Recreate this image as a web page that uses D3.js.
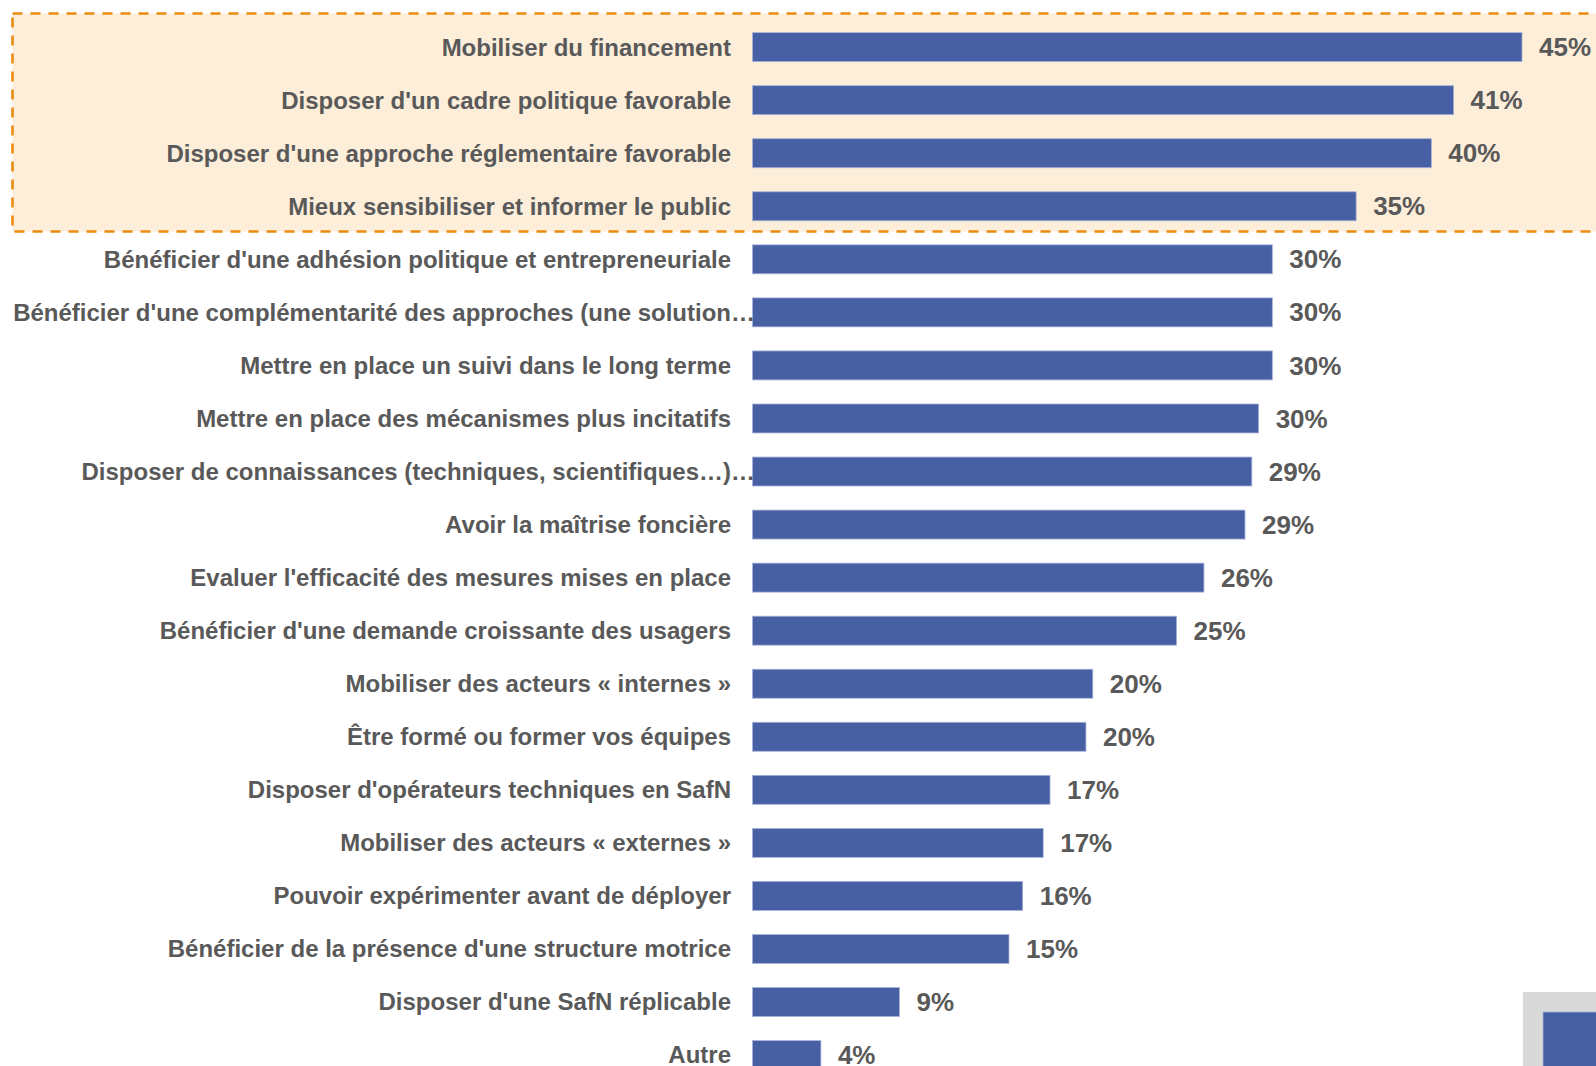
<!DOCTYPE html>
<html>
<head>
<meta charset="utf-8">
<script src="https://cdn.jsdelivr.net/npm/d3@7"></script>
<style>
  html, body { margin: 0; padding: 0; background: #ffffff; overflow: hidden; }
  svg { display: block; }
</style>
</head>
<body>
<svg id="chart" width="1596" height="1066"></svg>
<script>
// ---- data ----
const categories = [
  "Mobiliser du financement",
  "Disposer d'un cadre politique favorable",
  "Disposer d'une approche réglementaire favorable",
  "Mieux sensibiliser et informer le public",
  "Bénéficier d'une adhésion politique et entrepreneuriale",
  "Bénéficier d'une complémentarité des approches (une solution…",
  "Mettre en place un suivi dans le long terme",
  "Mettre en place des mécanismes plus incitatifs",
  "Disposer de connaissances (techniques, scientifiques…)…",
  "Avoir la maîtrise foncière",
  "Evaluer l'efficacité des mesures mises en place",
  "Bénéficier d'une demande croissante des usagers",
  "Mobiliser des acteurs « internes »",
  "Être formé ou former vos équipes",
  "Disposer d'opérateurs techniques en SafN",
  "Mobiliser des acteurs « externes »",
  "Pouvoir expérimenter avant de déployer",
  "Bénéficier de la présence d'une structure motrice",
  "Disposer d'une SafN réplicable",
  "Autre"
];
const values = [45.0, 41.0, 39.7, 35.3, 30.4, 30.4, 30.4, 29.6, 29.2, 28.8,
                26.4, 24.8, 19.9, 19.5, 17.4, 17.0, 15.8, 15.0, 8.6, 4.0];
const valueLabels = ["45%", "41%", "40%", "35%", "30%", "30%", "30%", "30%", "29%", "29%",
                     "26%", "25%", "20%", "20%", "17%", "17%", "16%", "15%", "9%", "4%"];
const highlightedCount = 4;

// ---- layout ----
const svg = d3.select("#chart");
const W = 1596, H = 1066;
const barX0 = 752.5;
const pxPerPct = 17.1;
const step = 53.05;

const x = d3.scaleLinear().domain([0, 100]).range([barX0, barX0 + 100 * pxPerPct]);
const y = d3.scaleBand()
  .domain(categories)
  .range([20.6, 20.6 + categories.length * step])
  .paddingInner(0.454)
  .paddingOuter(0.227);

const textColor = "#595959";
const barColor = "#475FA3";
const font = "'Liberation Sans', Arial, Helvetica, sans-serif";

// highlight box for top items
const hlTop = 13.5;
const hlBottom = 231.5;
svg.append("rect")
  .attr("x", 12.5)
  .attr("y", hlTop)
  .attr("width", W + 20)
  .attr("height", hlBottom - hlTop)
  .attr("fill", "#FDEEDA")
  .attr("stroke", "#EB8C10")
  .attr("stroke-width", 2.6)
  .attr("stroke-dasharray", "10,8");

// bars
svg.append("g").selectAll("rect")
  .data(categories)
  .join("rect")
  .attr("x", x(0))
  .attr("y", d => y(d))
  .attr("width", (d, i) => x(values[i]) - x(0))
  .attr("height", y.bandwidth())
  .attr("fill", barColor)
  .attr("stroke", "#A7B2D8")
  .attr("stroke-width", 0.8);

// category labels
svg.append("g").selectAll("text")
  .data(categories)
  .join("text")
  .attr("x", d => d.endsWith("…") ? 755 : 731)
  .attr("y", d => y(d) + y.bandwidth() / 2)
  .attr("dy", "0.35em")
  .attr("text-anchor", "end")
  .attr("font-family", font)
  .attr("font-weight", "bold")
  .attr("font-size", 24)
  .attr("fill", textColor)
  .text(d => d);

// value labels
svg.append("g").selectAll("text")
  .data(categories)
  .join("text")
  .attr("x", (d, i) => x(values[i]) + 17)
  .attr("y", d => y(d) + y.bandwidth() / 2)
  .attr("dy", "0.35em")
  .attr("text-anchor", "start")
  .attr("font-family", font)
  .attr("font-weight", "bold")
  .attr("font-size", 26)
  .attr("fill", textColor)
  .text((d, i) => valueLabels[i]);

// decorative corner elements (bottom right)
svg.append("rect")
  .attr("x", 1523).attr("y", 992)
  .attr("width", 100).attr("height", 100)
  .attr("fill", "#D9D9D9");
svg.append("rect")
  .attr("x", 1543).attr("y", 1012)
  .attr("width", 100).attr("height", 100)
  .attr("fill", barColor)
  .attr("stroke", "#A7B2D8")
  .attr("stroke-width", 0.8);
</script>
</body>
</html>
